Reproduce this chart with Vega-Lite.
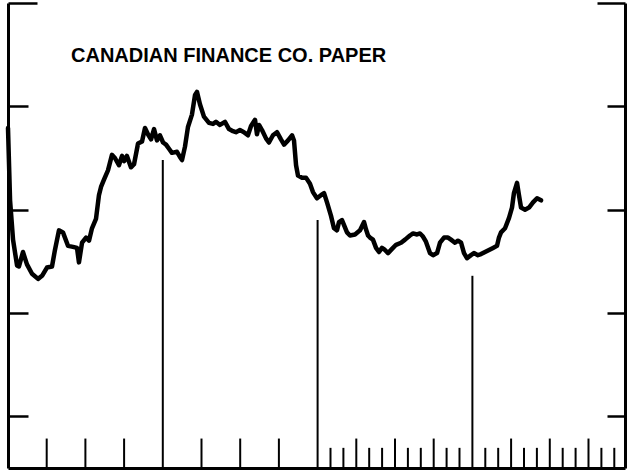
{
  "$schema": "https://vega.github.io/schema/vega-lite/v6.json",
  "autosize": "none",
  "width": 617,
  "height": 465,
  "padding": {"left": 8, "top": 3, "right": 5, "bottom": 7},
  "background": "white",
  "title": {
    "text": "CANADIAN FINANCE CO. PAPER",
    "anchor": "start",
    "frame": "group",
    "orient": "top",
    "offset": 0,
    "baseline": "alphabetic",
    "dx": 63,
    "dy": 80,
    "font": "Liberation Sans",
    "fontSize": 20,
    "fontWeight": "bold",
    "color": "black"
  },
  "datasets": {
    "rate": [
      {"m": 0, "v": 3.79}, {"m": 0.16, "v": 3.09}, {"m": 0.39, "v": 2.71}, {"m": 0.70, "v": 2.46},
      {"m": 0.85, "v": 2.45}, {"m": 1.16, "v": 2.59}, {"m": 1.47, "v": 2.47}, {"m": 1.86, "v": 2.38},
      {"m": 2.33, "v": 2.33}, {"m": 2.64, "v": 2.36}, {"m": 3.02, "v": 2.44}, {"m": 3.41, "v": 2.45},
      {"m": 3.64, "v": 2.61}, {"m": 3.95, "v": 2.80}, {"m": 4.26, "v": 2.78}, {"m": 4.65, "v": 2.65},
      {"m": 5.04, "v": 2.64}, {"m": 5.35, "v": 2.63}, {"m": 5.50, "v": 2.49}, {"m": 5.74, "v": 2.68},
      {"m": 6.05, "v": 2.73}, {"m": 6.28, "v": 2.70}, {"m": 6.51, "v": 2.82}, {"m": 6.82, "v": 2.91},
      {"m": 7.05, "v": 3.14}, {"m": 7.21, "v": 3.22}, {"m": 7.44, "v": 3.29}, {"m": 7.75, "v": 3.38},
      {"m": 8.06, "v": 3.53}, {"m": 8.29, "v": 3.50}, {"m": 8.60, "v": 3.43}, {"m": 8.84, "v": 3.52},
      {"m": 9.00, "v": 3.47}, {"m": 9.22, "v": 3.52}, {"m": 9.53, "v": 3.41}, {"m": 9.77, "v": 3.44},
      {"m": 10.08, "v": 3.64}, {"m": 10.39, "v": 3.66}, {"m": 10.62, "v": 3.79}, {"m": 10.85, "v": 3.73},
      {"m": 11.09, "v": 3.68}, {"m": 11.32, "v": 3.78}, {"m": 11.55, "v": 3.67}, {"m": 11.78, "v": 3.72},
      {"m": 12.02, "v": 3.65}, {"m": 12.25, "v": 3.63}, {"m": 12.48, "v": 3.59}, {"m": 12.71, "v": 3.55},
      {"m": 13.10, "v": 3.56}, {"m": 13.33, "v": 3.51}, {"m": 13.49, "v": 3.48}, {"m": 13.72, "v": 3.61},
      {"m": 13.95, "v": 3.80}, {"m": 14.26, "v": 3.92}, {"m": 14.50, "v": 4.11}, {"m": 14.65, "v": 4.14},
      {"m": 14.88, "v": 4.02}, {"m": 15.19, "v": 3.90}, {"m": 15.58, "v": 3.84}, {"m": 15.89, "v": 3.83},
      {"m": 16.12, "v": 3.85}, {"m": 16.43, "v": 3.82}, {"m": 16.82, "v": 3.85}, {"m": 17.13, "v": 3.78},
      {"m": 17.44, "v": 3.76}, {"m": 17.67, "v": 3.75}, {"m": 17.98, "v": 3.77}, {"m": 18.29, "v": 3.75},
      {"m": 18.60, "v": 3.72}, {"m": 18.84, "v": 3.81}, {"m": 19.15, "v": 3.87}, {"m": 19.30, "v": 3.73},
      {"m": 19.46, "v": 3.82}, {"m": 19.69, "v": 3.77}, {"m": 20.00, "v": 3.69}, {"m": 20.23, "v": 3.65},
      {"m": 20.54, "v": 3.72}, {"m": 20.85, "v": 3.75}, {"m": 21.16, "v": 3.68}, {"m": 21.40, "v": 3.63},
      {"m": 21.71, "v": 3.67}, {"m": 22.02, "v": 3.72}, {"m": 22.17, "v": 3.67}, {"m": 22.33, "v": 3.43},
      {"m": 22.48, "v": 3.33}, {"m": 22.79, "v": 3.31}, {"m": 23.10, "v": 3.31}, {"m": 23.41, "v": 3.25},
      {"m": 23.64, "v": 3.17}, {"m": 23.95, "v": 3.11}, {"m": 24.26, "v": 3.14}, {"m": 24.50, "v": 3.16},
      {"m": 24.73, "v": 3.07}, {"m": 25.04, "v": 2.94}, {"m": 25.27, "v": 2.82}, {"m": 25.50, "v": 2.80},
      {"m": 25.66, "v": 2.88}, {"m": 25.89, "v": 2.90}, {"m": 26.05, "v": 2.85}, {"m": 26.28, "v": 2.78},
      {"m": 26.51, "v": 2.75}, {"m": 26.90, "v": 2.76}, {"m": 27.29, "v": 2.80}, {"m": 27.60, "v": 2.88},
      {"m": 27.75, "v": 2.81}, {"m": 27.91, "v": 2.75}, {"m": 28.06, "v": 2.73}, {"m": 28.29, "v": 2.71},
      {"m": 28.53, "v": 2.63}, {"m": 28.76, "v": 2.59}, {"m": 28.99, "v": 2.63}, {"m": 29.22, "v": 2.61},
      {"m": 29.46, "v": 2.58}, {"m": 29.77, "v": 2.62}, {"m": 30.08, "v": 2.66}, {"m": 30.47, "v": 2.68},
      {"m": 30.78, "v": 2.71}, {"m": 31.16, "v": 2.75}, {"m": 31.40, "v": 2.77}, {"m": 31.71, "v": 2.76},
      {"m": 31.94, "v": 2.77}, {"m": 32.17, "v": 2.74}, {"m": 32.40, "v": 2.69}, {"m": 32.71, "v": 2.58},
      {"m": 32.95, "v": 2.56}, {"m": 33.26, "v": 2.58}, {"m": 33.49, "v": 2.68}, {"m": 33.80, "v": 2.73},
      {"m": 34.11, "v": 2.73}, {"m": 34.34, "v": 2.71}, {"m": 34.65, "v": 2.68}, {"m": 34.88, "v": 2.70},
      {"m": 35.12, "v": 2.68}, {"m": 35.35, "v": 2.58}, {"m": 35.58, "v": 2.53}, {"m": 35.89, "v": 2.56},
      {"m": 36.12, "v": 2.58}, {"m": 36.43, "v": 2.56}, {"m": 36.67, "v": 2.57}, {"m": 36.98, "v": 2.59},
      {"m": 37.29, "v": 2.61}, {"m": 37.60, "v": 2.63}, {"m": 37.91, "v": 2.65}, {"m": 38.06, "v": 2.73},
      {"m": 38.22, "v": 2.78}, {"m": 38.53, "v": 2.82}, {"m": 38.84, "v": 2.92}, {"m": 39.07, "v": 3.02},
      {"m": 39.22, "v": 3.16}, {"m": 39.46, "v": 3.26}, {"m": 39.61, "v": 3.14}, {"m": 39.77, "v": 3.02},
      {"m": 40.08, "v": 3.00}, {"m": 40.39, "v": 3.02}, {"m": 40.70, "v": 3.07}, {"m": 41.01, "v": 3.11},
      {"m": 41.32, "v": 3.09}
    ],
    "years": [
      {"m": 12, "top": 3.48},
      {"m": 24, "top": 2.90},
      {"m": 36, "top": 2.36}
    ],
    "quarters": [
      {"m": 3}, {"m": 6}, {"m": 9}, {"m": 15}, {"m": 18}, {"m": 21},
      {"m": 27}, {"m": 30}, {"m": 33}, {"m": 39}, {"m": 42}, {"m": 45}
    ],
    "months": [
      {"m": 25}, {"m": 26}, {"m": 28}, {"m": 29}, {"m": 31}, {"m": 32}, {"m": 34}, {"m": 35},
      {"m": 37}, {"m": 38}, {"m": 40}, {"m": 41}, {"m": 43}, {"m": 44}, {"m": 46}, {"m": 47}
    ]
  },
  "layer": [
    {
      "data": {"name": "rate"},
      "mark": {"type": "line", "color": "black", "strokeWidth": 4.5, "strokeJoin": "round", "strokeCap": "round"},
      "encoding": {
        "x": {
          "field": "m", "type": "quantitative",
          "scale": {"domain": [0, 47.83], "nice": false, "zero": false},
          "axis": {
            "orient": "bottom", "title": null, "labels": false, "grid": false, "ticks": false,
            "domainColor": "black", "domainWidth": 3
          }
        },
        "y": {
          "field": "v", "type": "quantitative",
          "scale": {"domain": [0.5, 5], "nice": false, "zero": false},
          "axis": {
            "orient": "left", "title": null, "labels": false, "grid": false,
            "domainColor": "black", "domainWidth": 3,
            "tickColor": "black", "tickWidth": 2.5,
            "values": [1, 2, 3, 4, 5],
            "tickSize": {"condition": {"test": "datum.value === 5", "value": -29}, "value": -20}
          }
        }
      }
    },
    {
      "data": {"name": "years"},
      "mark": {"type": "rule", "color": "black", "strokeWidth": 2},
      "encoding": {
        "x": {"field": "m", "type": "quantitative"},
        "y": {
          "field": "top", "type": "quantitative",
          "axis": {
            "orient": "right", "title": null, "labels": false, "grid": false,
            "domainColor": "black", "domainWidth": 3,
            "tickColor": "black", "tickWidth": 2.5,
            "values": [1, 2, 3, 4, 5],
            "tickSize": {"condition": {"test": "datum.value === 5", "value": -28}, "value": -18}
          }
        },
        "y2": {"datum": 0.5}
      }
    },
    {
      "data": {"name": "quarters"},
      "mark": {"type": "rule", "color": "black", "strokeWidth": 2},
      "encoding": {
        "x": {"field": "m", "type": "quantitative"},
        "y": {"datum": 0.5, "type": "quantitative", "axis": null},
        "y2": {"datum": 0.785}
      }
    },
    {
      "data": {"name": "months"},
      "mark": {"type": "rule", "color": "black", "strokeWidth": 2},
      "encoding": {
        "x": {"field": "m", "type": "quantitative"},
        "y": {"datum": 0.5, "type": "quantitative", "axis": null},
        "y2": {"datum": 0.695}
      }
    }
  ],
  "resolve": {"axis": {"y": "independent"}},
  "config": {"view": {"stroke": null}}
}
